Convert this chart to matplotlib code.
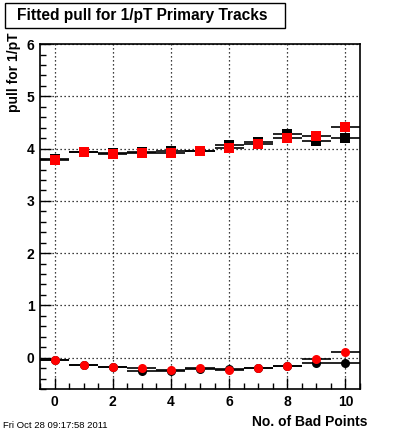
import matplotlib
matplotlib.use("Agg")
import matplotlib.pyplot as plt
from matplotlib.ticker import MultipleLocator
from matplotlib.patches import Rectangle

plt.rcParams['font.family'] = ['Liberation Sans', 'DejaVu Sans']

bad_points = [0, 1, 2, 3, 4, 5, 6, 7, 8, 9, 10]
black_sq = [3.81, 3.94, 3.91, 3.94, 3.95, 3.955, 4.06, 4.12, 4.28, 4.15, 4.20]
red_sq = [3.78, 3.94, 3.90, 3.92, 3.92, 3.955, 4.02, 4.08, 4.21, 4.24, 4.42]
black_c = [-0.05, -0.135, -0.18, -0.25, -0.25, -0.21, -0.22, -0.19, -0.155, -0.11, -0.10]
red_c = [-0.045, -0.135, -0.17, -0.205, -0.24, -0.20, -0.24, -0.19, -0.155, -0.02, 0.11]

fig = plt.figure(figsize=(4.0, 4.33), dpi=100)
ax = fig.add_axes([0.1, 0.1016, 0.8, 0.7966])

ms = 6.5
for ys, col, mk in [(black_sq, 'black', 's'), (black_c, 'black', 'o'),
                    (red_sq, 'red', 's'), (red_c, 'red', 'o')]:
    ax.errorbar(bad_points, ys, xerr=0.5, fmt=mk, color=col, ecolor='black',
                elinewidth=1.2, markersize=ms, markeredgewidth=0, capsize=0, zorder=3)

ax.set_xlim(-0.5, 10.5)
ax.set_ylim(-0.6, 6)
ax.xaxis.set_major_locator(MultipleLocator(2))
ax.xaxis.set_minor_locator(MultipleLocator(0.5))
ax.yaxis.set_major_locator(MultipleLocator(1))
ax.yaxis.set_minor_locator(MultipleLocator(0.2))
ax.tick_params(axis='both', which='both', direction='in', top=False, right=False, width=1)
ax.tick_params(axis='both', which='major', length=8, labelsize=10, pad=4)
ax.tick_params(axis='both', which='minor', length=4)
for lab in ax.get_xticklabels() + ax.get_yticklabels():
    lab.set_fontweight('bold')
ax.grid(True, which='major', linestyle=(0, (1, 2.2)), color='black', linewidth=0.9)
for s in ax.spines.values():
    s.set_linewidth(1.2)

fig.text(14 / 400, 1 - 33 / 433, 'pull for 1/pT', rotation=90, ha='center', va='top',
         fontsize=10, fontweight='bold')
fig.text(367 / 400, 1 - 422 / 433, 'No. of Bad Points', ha='right', va='center',
         fontsize=10, fontweight='bold')
fig.text(3 / 400, 1 - 425 / 433, 'Fri Oct 28 09:17:58 2011', ha='left', va='center',
         fontsize=6.8)

fig.text(142 / 400, 1 - 15.5 / 433, 'Fitted pull for 1/pT Primary Tracks', ha='center',
         va='center', fontsize=11.2, fontweight='bold')
fig.patches.append(Rectangle((5 / 400, 1 - 28 / 433), 280 / 400, 25 / 433,
                             transform=fig.transFigure, fill=False, lw=1, color='black'))

fig.savefig('out.png', dpi=100)
